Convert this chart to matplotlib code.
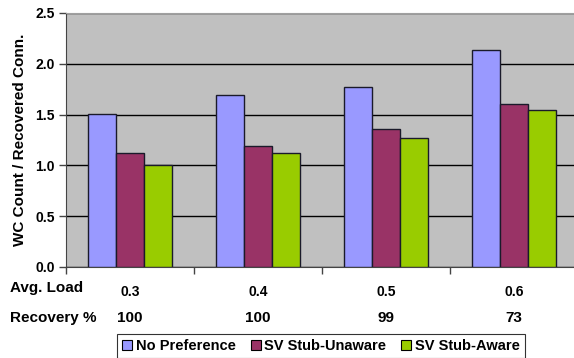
import numpy as np
import matplotlib
matplotlib.use('Agg')
import matplotlib.pyplot as plt
from matplotlib.patches import Patch
from matplotlib.transforms import blended_transform_factory

plt.rcParams['font.family'] = ['Liberation Sans', 'DejaVu Sans']
plt.rcParams['font.weight'] = 'bold'

loads = ['0.3', '0.4', '0.5', '0.6']
recovery = ['100', '100', '99', '73']
series = ['No Preference', 'SV Stub-Unaware', 'SV Stub-Aware']
no_pref = [1.51, 1.69, 1.77, 2.14]
stub_unaware = [1.12, 1.19, 1.36, 1.60]
stub_aware = [1.00, 1.12, 1.27, 1.55]
colors = ['#9999FF', '#993366', '#99CC00']

fig = plt.figure(figsize=(5.74, 3.58), dpi=100)
ax = fig.add_axes([66 / 574, 1 - 267 / 358, 512 / 574, 254 / 358])
ax.set_facecolor('#C0C0C0')

x = np.arange(len(loads))
w = 28 / 128
for i, vals in enumerate([no_pref, stub_unaware, stub_aware]):
    ax.bar(x + (i - 1) * w, vals, w, color=colors[i], edgecolor='#1a1a2a',
           linewidth=1.0, zorder=3)

ax.set_xlim(-0.5, 3.5)
ax.set_ylim(0, 2.5)
ax.set_yticks(np.arange(0, 2.51, 0.5))
ax.set_yticklabels(['%.1f' % v for v in np.arange(0, 2.51, 0.5)], fontsize=10, fontweight='bold')
ax.yaxis.grid(True, color='black', linewidth=1.0, zorder=0)
ax.set_axisbelow(True)
ax.set_xticks([-0.5, 0.5, 1.5, 2.5])
ax.set_xticklabels([])
ax.tick_params(axis='x', direction='out', length=5, width=1, color='#444444')
ax.tick_params(axis='y', direction='out', length=5, width=1, color='#444444', pad=3)
ax.spines['top'].set_color('#a0a0a0')
ax.spines['right'].set_visible(False)
ax.spines['left'].set_color('#444444')
ax.spines['bottom'].set_color('#444444')

ax.set_ylabel('WC Count / Recovered Conn.', fontsize=11, fontweight='bold', labelpad=6)

tr = blended_transform_factory(ax.transData, fig.transFigure)
fig.text(10 / 574, 1 - 288 / 358, 'Avg. Load', fontsize=11, fontweight='bold', va='center')
fig.text(10 / 574, 1 - 318 / 358, 'Recovery %', fontsize=11, fontweight='bold', va='center')
for i in range(len(loads)):
    ax.text(x[i], 1 - 292 / 358, loads[i], transform=tr, ha='center', va='center',
            fontsize=10, fontweight='bold')
    ax.text(x[i], 1 - 318 / 358, recovery[i], transform=tr, ha='center', va='center',
            fontsize=11, fontweight='bold')

handles = [Patch(facecolor=c, edgecolor='black', linewidth=0.8) for c in colors]
leg = fig.legend(handles, series, loc='upper center', bbox_to_anchor=(321 / 574, 1 - 334 / 358),
                 ncol=3, frameon=True, fancybox=False, handlelength=0.7,
                 handleheight=0.7, handletextpad=0.25, columnspacing=1.0, borderpad=0.35,
                 borderaxespad=0, prop={'weight': 'bold', 'size': 10.5})
leg.get_frame().set_edgecolor('black')
leg.get_frame().set_linewidth(0.8)

fig.savefig('out.png', dpi=100)
